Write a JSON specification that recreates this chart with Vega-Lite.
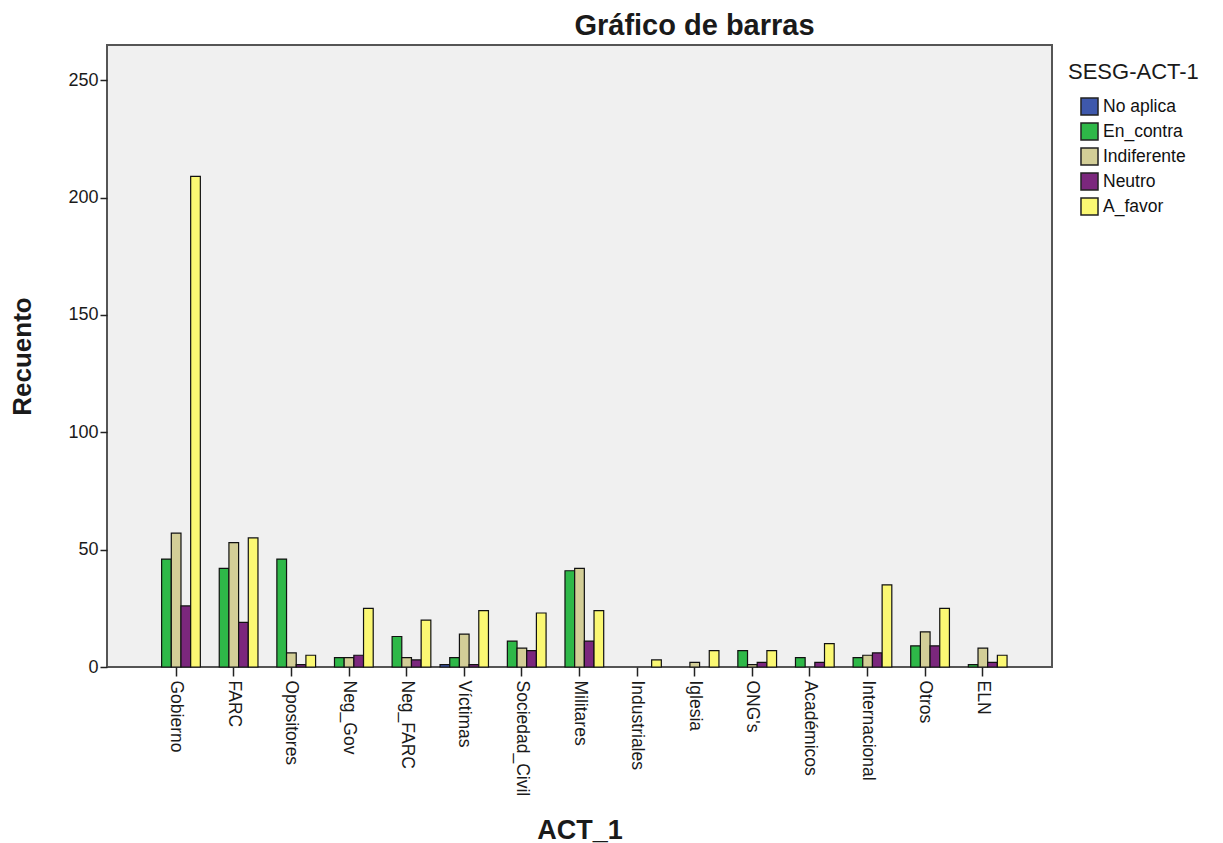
{
  "$schema": "https://vega.github.io/schema/vega-lite/v6.json",
  "autosize": {"type": "none"},
  "padding": {"left": 107, "top": 45, "right": 171, "bottom": 176},
  "width": 945,
  "height": 622,
  "background": "white",
  "config": {
    "font": "Liberation Sans",
    "view": {"fill": "#F0F0F0", "stroke": "#555555", "strokeWidth": 2}
  },
  "title": {
    "text": "Gráfico de barras",
    "font": "Liberation Sans",
    "fontSize": 29,
    "fontWeight": "bold",
    "color": "#1a1a1a",
    "anchor": "middle",
    "dx": 115,
    "offset": 4
  },
  "data": {
    "values": [
      {"act": "Gobierno", "sesg": "En_contra", "n": 46},
      {"act": "Gobierno", "sesg": "Indiferente", "n": 57},
      {"act": "Gobierno", "sesg": "Neutro", "n": 26},
      {"act": "Gobierno", "sesg": "A_favor", "n": 209},
      {"act": "FARC", "sesg": "En_contra", "n": 42},
      {"act": "FARC", "sesg": "Indiferente", "n": 53},
      {"act": "FARC", "sesg": "Neutro", "n": 19},
      {"act": "FARC", "sesg": "A_favor", "n": 55},
      {"act": "Opositores", "sesg": "En_contra", "n": 46},
      {"act": "Opositores", "sesg": "Indiferente", "n": 6},
      {"act": "Opositores", "sesg": "Neutro", "n": 1},
      {"act": "Opositores", "sesg": "A_favor", "n": 5},
      {"act": "Neg_Gov", "sesg": "En_contra", "n": 4},
      {"act": "Neg_Gov", "sesg": "Indiferente", "n": 4},
      {"act": "Neg_Gov", "sesg": "Neutro", "n": 5},
      {"act": "Neg_Gov", "sesg": "A_favor", "n": 25},
      {"act": "Neg_FARC", "sesg": "En_contra", "n": 13},
      {"act": "Neg_FARC", "sesg": "Indiferente", "n": 4},
      {"act": "Neg_FARC", "sesg": "Neutro", "n": 3},
      {"act": "Neg_FARC", "sesg": "A_favor", "n": 20},
      {"act": "Víctimas", "sesg": "No aplica", "n": 1},
      {"act": "Víctimas", "sesg": "En_contra", "n": 4},
      {"act": "Víctimas", "sesg": "Indiferente", "n": 14},
      {"act": "Víctimas", "sesg": "Neutro", "n": 1},
      {"act": "Víctimas", "sesg": "A_favor", "n": 24},
      {"act": "Sociedad_Civil", "sesg": "En_contra", "n": 11},
      {"act": "Sociedad_Civil", "sesg": "Indiferente", "n": 8},
      {"act": "Sociedad_Civil", "sesg": "Neutro", "n": 7},
      {"act": "Sociedad_Civil", "sesg": "A_favor", "n": 23},
      {"act": "Militares", "sesg": "En_contra", "n": 41},
      {"act": "Militares", "sesg": "Indiferente", "n": 42},
      {"act": "Militares", "sesg": "Neutro", "n": 11},
      {"act": "Militares", "sesg": "A_favor", "n": 24},
      {"act": "Industriales", "sesg": "A_favor", "n": 3},
      {"act": "Iglesia", "sesg": "Indiferente", "n": 2},
      {"act": "Iglesia", "sesg": "A_favor", "n": 7},
      {"act": "ONG's", "sesg": "En_contra", "n": 7},
      {"act": "ONG's", "sesg": "Indiferente", "n": 1},
      {"act": "ONG's", "sesg": "Neutro", "n": 2},
      {"act": "ONG's", "sesg": "A_favor", "n": 7},
      {"act": "Académicos", "sesg": "En_contra", "n": 4},
      {"act": "Académicos", "sesg": "Neutro", "n": 2},
      {"act": "Académicos", "sesg": "A_favor", "n": 10},
      {"act": "Internacional", "sesg": "En_contra", "n": 4},
      {"act": "Internacional", "sesg": "Indiferente", "n": 5},
      {"act": "Internacional", "sesg": "Neutro", "n": 6},
      {"act": "Internacional", "sesg": "A_favor", "n": 35},
      {"act": "Otros", "sesg": "En_contra", "n": 9},
      {"act": "Otros", "sesg": "Indiferente", "n": 15},
      {"act": "Otros", "sesg": "Neutro", "n": 9},
      {"act": "Otros", "sesg": "A_favor", "n": 25},
      {"act": "ELN", "sesg": "En_contra", "n": 1},
      {"act": "ELN", "sesg": "Indiferente", "n": 8},
      {"act": "ELN", "sesg": "Neutro", "n": 2},
      {"act": "ELN", "sesg": "A_favor", "n": 5}
    ]
  },
  "mark": {"type": "bar", "stroke": "#111111", "strokeWidth": 1.2},
  "encoding": {
    "x": {
      "field": "act",
      "type": "nominal",
      "sort": ["Gobierno", "FARC", "Opositores", "Neg_Gov", "Neg_FARC", "Víctimas", "Sociedad_Civil", "Militares", "Industriales", "Iglesia", "ONG's", "Académicos", "Internacional", "Otros", "ELN"],
      "scale": {"domain": ["Gobierno", "FARC", "Opositores", "Neg_Gov", "Neg_FARC", "Víctimas", "Sociedad_Civil", "Militares", "Industriales", "Iglesia", "ONG's", "Académicos", "Internacional", "Otros", "ELN"], "paddingInner": 0.16, "paddingOuter": 0.78},
      "axis": {
        "title": "ACT_1",
        "titleFont": "Liberation Sans",
        "titleFontSize": 27,
        "titleFontWeight": "bold",
        "titleColor": "#1a1a1a",
        "titleY": 163,
        "titleBaseline": "middle",
        "labelAngle": 90,
        "labelAlign": "left",
        "labelBaseline": "middle",
        "labelFont": "Liberation Sans",
        "labelFontSize": 17.5,
        "labelColor": "#1a1a1a",
        "labelPadding": 4,
        "labelOverlap": false,
        "tickColor": "#222222",
        "tickSize": 9,
        "tickWidth": 1.5,
        "domain": false
      }
    },
    "xOffset": {
      "field": "sesg",
      "type": "nominal",
      "scale": {"domain": ["No aplica", "En_contra", "Indiferente", "Neutro", "A_favor"], "paddingInner": 0, "paddingOuter": 0}
    },
    "y": {
      "field": "n",
      "type": "quantitative",
      "scale": {"domain": [0, 265], "nice": false},
      "axis": {
        "title": "Recuento",
        "titleFont": "Liberation Sans",
        "titleFontSize": 26,
        "titleFontWeight": "bold",
        "titleColor": "#1a1a1a",
        "titleX": -85,
        "titleY": 311,
        "titleBaseline": "middle",
        "titleAlign": "center",
        "titleAngle": -90,
        "values": [0, 50, 100, 150, 200, 250],
        "labelFont": "Liberation Sans",
        "labelFontSize": 18,
        "labelColor": "#1a1a1a",
        "labelPadding": 2,
        "tickColor": "#222222",
        "tickSize": 7,
        "tickWidth": 1.5,
        "grid": false,
        "domain": false
      }
    },
    "color": {
      "field": "sesg",
      "type": "nominal",
      "scale": {
        "domain": ["No aplica", "En_contra", "Indiferente", "Neutro", "A_favor"],
        "range": ["#3E58AC", "#2EB848", "#D3CE97", "#7B277D", "#FBF873"]
      },
      "legend": {
        "title": "SESG-ACT-1",
        "titleFont": "Liberation Sans",
        "titleFontSize": 22,
        "titleFontWeight": "normal",
        "titleColor": "#1a1a1a",
        "titlePadding": 13,
        "orient": "none",
        "legendX": 961,
        "legendY": 17,
        "labelFont": "Liberation Sans",
        "labelFontSize": 17.5,
        "labelColor": "#111111",
        "labelOffset": 4,
        "symbolOffset": 12,
        "symbolType": "square",
        "symbolSize": 290,
        "symbolStrokeColor": "#222222",
        "symbolStrokeWidth": 1.5,
        "symbolOpacity": 1,
        "rowPadding": 0
      }
    }
  }
}
